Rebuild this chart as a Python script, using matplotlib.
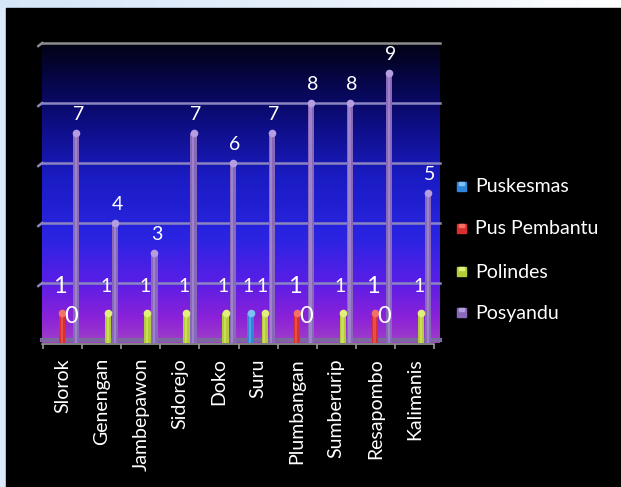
import numpy as np
import matplotlib
matplotlib.use("Agg")
import matplotlib.pyplot as plt
from matplotlib.patches import Rectangle
from matplotlib.colors import LinearSegmentedColormap

plt.rcParams['font.family'] = ['Lato', 'DejaVu Sans']

# data
desa = ['Slorok', 'Genengan', 'Jambepawon', 'Sidorejo', 'Doko', 'Suru',
        'Plumbangan', 'Sumberurip', 'Resapombo', 'Kalimanis']
series = ['Puskesmas', 'Pus Pembantu', 'Polindes', 'Posyandu']
puskesmas = [np.nan, np.nan, np.nan, np.nan, np.nan, 1, np.nan, np.nan, np.nan, np.nan]
pus_pembantu = [1, np.nan, np.nan, np.nan, np.nan, np.nan, 1, np.nan, 1, np.nan]
polindes = [0, 1, 1, 1, 1, 1, 0, 1, 0, 1]
posyandu = [7, 4, 3, 7, 6, 7, 8, 8, 9, 5]

colors = ['#2f86d8', '#d8302c', '#b4cc3a', '#8868b8']
highlights = ['#7cc0f4', '#f27068', '#e0f07a', '#b49ee0']

W, H = 621, 487
fig = plt.figure(figsize=(W / 100, H / 100), dpi=100)

# frame: light blue border with a black panel
bg = fig.add_axes([0, 0, 1, 1])
bg.set_xlim(0, W)
bg.set_ylim(H, 0)
bg.axis('off')
bg.add_patch(Rectangle((0, 0), W, H, color='#dae9fb', zorder=0))
top = np.linspace(0, 1, 256)[None, :]
bg.imshow(top, extent=(0, W, 8, 0), aspect='auto', zorder=1,
          cmap=LinearSegmentedColormap.from_list('strip', ['#d6e6f9', '#e6f0fb', '#ffffff']))
bg.add_patch(Rectangle((6, 8), W - 6, H - 8, color='#000000', zorder=2))

# legend drawn by hand on the right
leg_y = [187, 229, 272, 313]
for name, c, hc, y in zip(series, colors, highlights, leg_y):
    bg.add_patch(Rectangle((457, y - 5), 9, 9, color=c, zorder=3))
    bg.add_patch(Rectangle((459, y - 5), 5, 3, color=hc, zorder=4))
    bg.text(475, y, name, color='white', fontsize=14, va='center', ha='left', zorder=4)

# plot area
x0, x1, y_top, y_base = 43, 434, 43, 343
ax = fig.add_axes([x0 / W, (H - y_base) / H, (x1 - x0) / W, (y_base - y_top) / H])
ax.set_xlim(0, 10)
ax.set_ylim(0, 10)
ax.axis('off')

grad = LinearSegmentedColormap.from_list(
    'wall', [(0.0, '#a040c8'), (0.08, '#8c22d8'), (0.2, '#5a1ee6'),
             (0.35, '#2a24e2'), (0.55, '#1a1cc4'), (0.75, '#0c0c7c'),
             (0.9, '#05053e'), (1.0, '#020214')])
ax.imshow(np.linspace(0, 1, 256)[:, None], extent=(-0.02, 10.15, 0, 10), origin='lower',
          aspect='auto', cmap=grad, zorder=0, clip_on=False)

# gridlines with a short bend at the side wall
for g in [2, 4, 6, 8, 10]:
    gc = '#8c8c8c' if g == 10 else '#8a84c0'
    ax.plot([-0.02, 10.15], [g, g], color=gc, lw=1.8, zorder=1, clip_on=False)
    ax.plot([-0.12, -0.02], [g - 0.1, g], color=gc, lw=1.8, zorder=1, clip_on=False)

# floor and category ticks
ax.plot([-0.02, 10.15], [0.1, 0.1], color='#7a6aa0', lw=3, zorder=1, clip_on=False)
ax.plot([-0.02, 10.0], [-0.04, -0.04], color='#9a9a9a', lw=1.2, zorder=2, clip_on=False)
ax.vlines(np.arange(0, 11), -0.2, -0.04, color='#9a9a9a', lw=1.2, clip_on=False)

# cylinders
values = [puskesmas, pus_pembantu, polindes, posyandu]
idx = np.arange(len(desa))
bw = 0.16
for k, (vals, c, hc) in enumerate(zip(values, colors, highlights)):
    vals = np.array(vals, dtype=float)
    xs = idx + 0.31 + 0.18 * k
    ax.bar(xs, vals, width=bw, color=c, zorder=3)
    ax.bar(xs - 0.01, vals, width=bw * 0.35, color=hc, alpha=0.5, zorder=4)
    ok = ~np.isnan(vals) & (vals > 0)
    ax.scatter(xs[ok], vals[ok], s=30, color=hc, marker='o', zorder=5, linewidths=0)
    for x, v in zip(xs, vals):
        if np.isnan(v):
            continue
        big = (k == 1) or (v == 0)
        off = 0.87 if k < 3 else 0.62
        lx = x - 0.06 if (k < 3 and v > 0) else x + 0.05
        ax.text(lx, v + off, f'{int(v)}', color='white',
                fontsize=17 if big else 14, ha='center', va='center', zorder=6)

# rotated category labels
for i, name in enumerate(desa):
    ax.text(i + 0.5, -0.5, name, rotation=90, ha='center', va='top',
            color='white', fontsize=14, clip_on=False)

fig.savefig('out.png', dpi=100, facecolor='black')
